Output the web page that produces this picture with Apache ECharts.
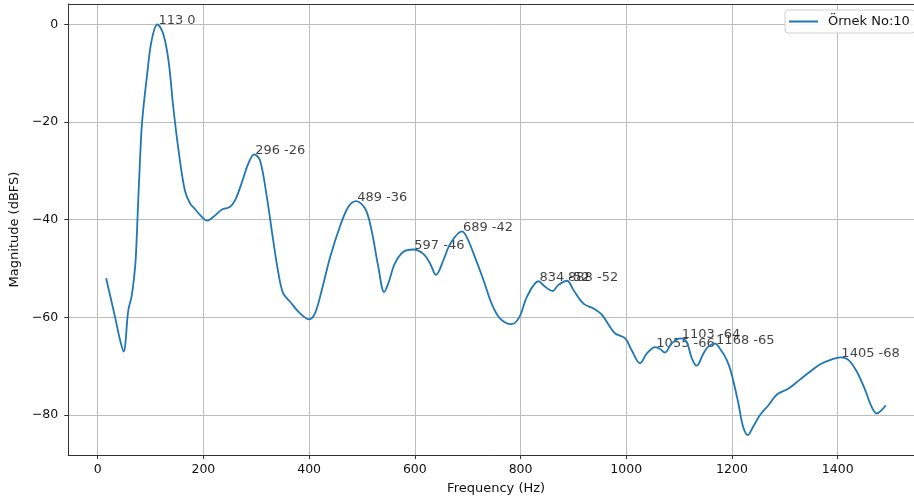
<!DOCTYPE html>
<html>
<head>
<meta charset="utf-8">
<script src="https://cdn.jsdelivr.net/npm/echarts@6/dist/echarts.min.js"></script>
<style>html,body{margin:0;padding:0;background:#fff}#c{width:914px;height:502px}</style>
</head>
<body>
<div id="c"></div>
<script>
const freqHz = [16, 33, 42, 49, 58, 64, 69, 72, 76, 80, 84, 93, 102, 113, 124, 134, 143, 153, 165, 175, 184, 197, 207, 219, 235, 250, 260, 272, 285, 296, 307, 320, 332, 342, 351, 364, 383, 400, 411, 424, 440, 458, 474, 489, 506, 518, 531, 542, 550, 562, 578, 597, 616, 629, 640, 654, 667, 689, 698, 711, 730, 745, 761, 783, 798, 812, 834, 846, 861, 871, 888, 900, 919, 938, 954, 969, 979, 998, 1010, 1026, 1039, 1055, 1064, 1073, 1086, 1103, 1114, 1124, 1133, 1146, 1155, 1168, 1177, 1190, 1199, 1212, 1221, 1230, 1240, 1253, 1269, 1285, 1307, 1329, 1348, 1367, 1389, 1405, 1420, 1436, 1452, 1464, 1474, 1483, 1491];
const magDb = [-52, -60, -64.5, -67, -58.5, -55.8, -51.7, -48, -38, -28, -20, -10.8, -3.3, 0, -1.9, -7.4, -16.9, -25.8, -34, -36.7, -37.8, -39.4, -40.2, -39.4, -37.9, -37.4, -36, -32.6, -28.5, -26.6, -27.8, -35.3, -44.2, -51, -55.1, -56.8, -59.2, -60.4, -59.2, -54.4, -47.6, -41.5, -37.4, -36.2, -37.7, -42.1, -49.7, -54.8, -53, -49, -46.6, -46.1, -47, -49, -51.3, -48.3, -44.9, -42.4, -43.5, -46.9, -52.4, -57.1, -60.2, -61.4, -59.9, -55.8, -52.6, -53.7, -54.6, -53.4, -52.5, -54.4, -57.2, -58.2, -59.5, -61.9, -63.3, -64.3, -66.7, -69.4, -67.4, -66.1, -66.5, -67.2, -65.3, -64.3, -65, -68.4, -69.9, -67.4, -66, -65.4, -66.4, -68.7, -71.5, -77.6, -82.4, -84.1, -82.4, -80, -78, -75.8, -74.6, -72.7, -71.1, -69.6, -68.6, -68.2, -68.7, -71.1, -74.9, -78.3, -79.7, -79, -78];
const peakHz = [113, 296, 489, 597, 689, 834, 888, 1055, 1103, 1168, 1405];
const peakDb = [0, -26.6, -36.2, -46.1, -42.4, -52.6, -52.5, -66.1, -64.3, -65.4, -68.2];
const seriesName = 'Örnek No:10';
const xTitle = 'Frequency (Hz)';
const yTitle = 'Magnitude (dBFS)';

const FONT = 'DejaVu Sans';
const TXT = '#111';
const chart = echarts.init(document.getElementById('c'), null, {renderer: 'canvas'});
const lineData = freqHz.map((f, i) => [f, magDb[i]]);
const peakData = peakHz.map((f, i) => [f, peakDb[i]]);
const minus = v => String(v).replace('-', '\u2212');

chart.setOption({
  animation: false,
  backgroundColor: '#fff',
  grid: {left: 68, right: 0, top: 4, bottom: 47, show: false},
  legend: {
    left: 785, top: 10, padding: [5, 5, 5, 4], orient: 'horizontal',
    icon: 'rect', itemWidth: 29, itemHeight: 2,
    borderColor: '#d0d0d0', borderWidth: 1, borderRadius: 3,
    backgroundColor: 'rgba(255,255,255,0.85)',
    textStyle: {fontFamily: FONT, fontSize: 13, color: TXT, padding: [0, 0, 0, 5]},
    data: [seriesName]
  },
  xAxis: [{
    type: 'value', min: -55.6, max: 1544.3, splitNumber: 8,
    name: xTitle, nameLocation: 'middle', nameGap: 27,
    nameTextStyle: {fontFamily: FONT, fontSize: 13, color: TXT, padding: [0, 0, 0, 10]},
    axisLine: {show: true, onZero: false, lineStyle: {color: '#333', width: 1}},
    axisTick: {show: true, inside: false, length: 4, lineStyle: {color: '#333'}},
    axisLabel: {fontFamily: FONT, fontSize: 12.5, color: TXT, margin: 8, showMinLabel: false, showMaxLabel: false, formatter: v => minus(v)},
    splitLine: {show: true, lineStyle: {color: '#bdbdbd', width: 1}}
  }, {
    type: 'value', position: 'top', min: -55.6, max: 1544.3,
    axisLine: {show: true, onZero: false, lineStyle: {color: '#333', width: 1}},
    axisTick: {show: false}, axisLabel: {show: false}, splitLine: {show: false}
  }],
  yAxis: {
    type: 'value', min: -88.2, max: 4.2, splitNumber: 5,
    name: yTitle, nameLocation: 'middle', nameGap: 44,
    nameTextStyle: {fontFamily: FONT, fontSize: 13, color: TXT},
    axisLine: {show: true, onZero: false, lineStyle: {color: '#333', width: 1}},
    axisTick: {show: true, inside: false, length: 4, lineStyle: {color: '#333'}},
    axisLabel: {fontFamily: FONT, fontSize: 12.5, color: TXT, margin: 10, showMinLabel: false, showMaxLabel: false, formatter: v => minus(v)},
    splitLine: {show: true, lineStyle: {color: '#bdbdbd', width: 1}}
  },
  series: [
    {
      name: seriesName, type: 'line', data: lineData, smooth: 0.35,
      symbol: 'none', showSymbol: false,
      lineStyle: {color: '#1f77b4', width: 1.8},
      itemStyle: {color: '#1f77b4'}
    },
    {
      name: 'peaks', type: 'scatter', data: peakData, symbolSize: 0,
      silent: true,
      label: {
        show: true, position: [0, 0], align: 'left', verticalAlign: 'bottom',
        offset: [1, 3],
        fontFamily: FONT, fontSize: 13, color: TXT,
        formatter: p => p.value[0] + ' ' + Math.trunc(p.value[1])
      }
    }
  ]
});
</script>
</body>
</html>
